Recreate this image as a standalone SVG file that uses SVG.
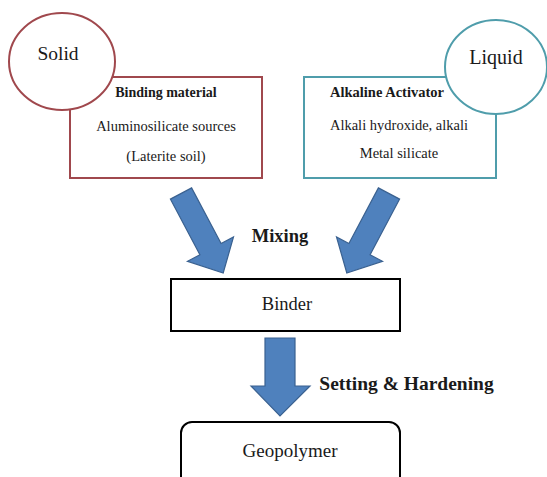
<svg xmlns="http://www.w3.org/2000/svg" width="547" height="477" viewBox="0 0 547 477">
<style>
.t{font-family:"Liberation Serif","Times New Roman",serif;fill:#1a1a1a;text-anchor:middle}
.b{font-weight:bold}
.s{font-size:14.5px}
.arrow{fill:#4f81bd;stroke:#3a6190;stroke-width:1.2;stroke-linejoin:miter}
.red{fill:#fff;stroke:#a0484d;stroke-width:2}
.teal{fill:#fff;stroke:#4f9dab;stroke-width:2}
</style>
<rect width="547" height="477" fill="#fff"/>
<g id="binding">
<rect class="red" x="70" y="77" width="192" height="101"/>
<text class="t b" x="166" y="97" font-size="14">Binding material</text>
<text class="t s" x="166" y="131">Aluminosilicate sources</text>
<text class="t s" x="166" y="161">(Laterite soil)</text>
</g>
<g id="solid">
<ellipse class="red" cx="62" cy="61.5" rx="53" ry="48.5"/>
<text class="t" x="58" y="60" font-size="19.5">Solid</text>
</g>
<g id="activator">
<rect class="teal" x="304" y="77" width="192" height="101"/>
<text class="t b" x="387" y="97" font-size="14.5">Alkaline Activator</text>
<text class="t s" x="399" y="130">Alkali hydroxide, alkali</text>
<text class="t s" x="399" y="158">Metal silicate</text>
</g>
<g id="liquid">
<ellipse class="teal" cx="496" cy="67" rx="51" ry="47"/>
<text class="t" x="496" y="64" font-size="20">Liquid</text>
</g>
<g id="binder">
<rect x="171" y="279" width="229" height="52" fill="#fff" stroke="#000" stroke-width="2"/>
<text class="t" x="287" y="310" font-size="18.5">Binder</text>
</g>
<g id="geopolymer">
<rect x="181" y="422" width="219" height="70" rx="11" fill="#fff" stroke="#000" stroke-width="2"/>
<text class="t" x="290" y="457" font-size="19">Geopolymer</text>
</g>
<g id="connectors">
<polygon class="arrow" points="170.4,199.1 191.6,187.9 221.1,243.5 233.5,236.9 223.2,273 187.5,261.3 199.9,254.7"/>
<polygon class="arrow" points="399.6,199.1 378.4,187.9 348.9,243.5 336.5,236.9 346.8,273 382.5,261.3 370.1,254.7"/>
<polygon class="arrow" points="265,338 295,338 295,386 310,386 280,416 251,386 265,386"/>
<text class="t b" x="280" y="242" font-size="18.5">Mixing</text>
<text class="t b" x="406.5" y="390" font-size="19.5">Setting &amp; Hardening</text>
</g>
</svg>
